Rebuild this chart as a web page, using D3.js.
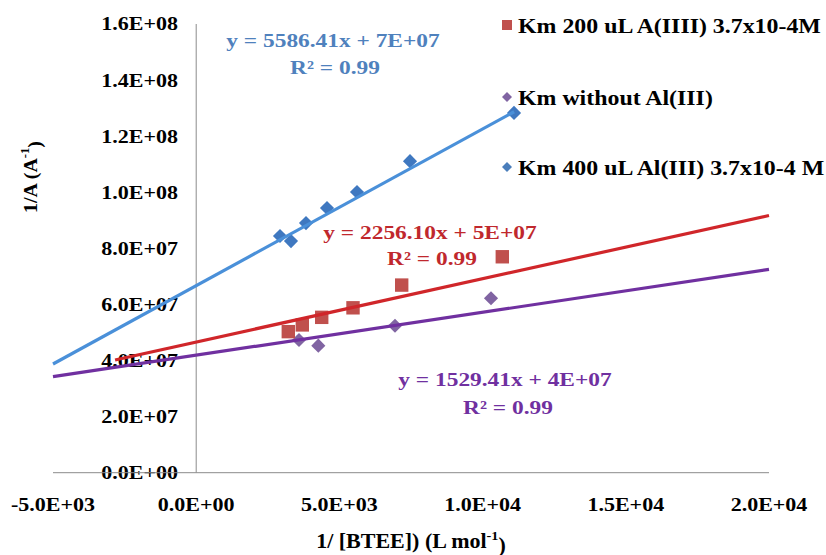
<!DOCTYPE html>
<html>
<head>
<meta charset="utf-8">
<script src="https://cdn.jsdelivr.net/npm/d3@7"></script>
<style>
  body { margin: 0; background: #fff; }
</style>
</head>
<body>
<script>
// data
var redX = [3216, 3705, 4382, 5475, 7175, 10688];
var redY = [5.03e7, 5.27e7, 5.54e7, 5.88e7, 6.69e7, 7.70e7];
var purpleX = [3589, 4264, 6941, 10293];
var purpleY = [4.73e7, 4.53e7, 5.24e7, 6.22e7];
var blueX = [2926, 3310, 3834, 4567, 5614, 7465, 11097];
var blueY = [8.44e7, 8.26e7, 8.90e7, 9.44e7, 1.001e8, 1.111e8, 1.283e8];

// trendlines: slope, intercept, x extent
var redFit = [2256.10, 4.66e7, -2833, 20000];
var purpleFit = [1529.41, 4.19e7, -5000, 20000];
var blueFit = [5586.41, 6.67e7, -5000, 11100];

var xTicks = [-5000, 0, 5000, 10000, 15000, 20000];
var yTicks = [0, 2e7, 4e7, 6e7, 8e7, 1e8, 1.2e8, 1.4e8, 1.6e8];
var legendNames = ['Km 200 uL A(IIII) 3.7x10-4M', 'Km without Al(III)', 'Km 400 uL Al(III) 3.7x10-4 M'];

var W = 826, H = 555;
var svg = d3.select('body').append('svg').attr('width', W).attr('height', H)
  .style('font-family', "'Liberation Serif', serif")
  .style('font-weight', 'bold');

var x = d3.scaleLinear().domain([-5000, 20000]).range([53, 769]);
var y = d3.scaleLinear().domain([0, 1.6e8]).range([472.7, 24]);

var fmt = function (v) {
  var s = v.toExponential(1).toUpperCase();   // e.g. 1.6E+8
  return s.replace(/E([+-])(\d)$/, 'E$10$2');
};

// stretched text helper (source picture is wider than tall)
var label = function (tx, ty, str, size, color, anchor, sx) {
  var g = svg.append('g').attr('transform', 'translate(' + tx + ',' + ty + ') scale(' + (sx || 1.15) + ',1)');
  return g.append('text')
    .attr('font-size', size)
    .attr('fill', color)
    .attr('text-anchor', anchor || 'middle')
    .attr('dy', '0.35em')
    .text(str);
};

// tick labels
yTicks.forEach(function (t) {
  label(178, y(t), fmt(t), 18.5, '#000', 'end', 1.19);
});
xTicks.forEach(function (t) {
  label(x(t), 505, fmt(t), 18.5, '#000', 'middle', 1.19);
});

// axes lines
svg.append('line').attr('x1', x(0)).attr('x2', x(0)).attr('y1', y(1.6e8)).attr('y2', y(0))
  .attr('stroke', '#8c8c8c').attr('stroke-width', 1);
svg.append('line').attr('x1', x(-5000)).attr('x2', x(20000)).attr('y1', y(0)).attr('y2', y(0))
  .attr('stroke', '#8c8c8c').attr('stroke-width', 1);

// axis titles
var xt = label(411, 541, '1/ [BTEE]) (L mol', 20, '#000', 'middle', 1.1);
xt.append('tspan').attr('font-size', 13).attr('dy', '-0.6em').text('-1');
xt.append('tspan').attr('dy', '0.6em').text(')');

var yg = svg.append('g').attr('transform', 'translate(30,177) rotate(-90) scale(1.05,1)');
var yt = yg.append('text').attr('font-size', 19).attr('text-anchor', 'middle').attr('dy', '0.35em').text('1/A (A');
yt.append('tspan').attr('font-size', 12).attr('dy', '-0.6em').text('-1');
yt.append('tspan').attr('dy', '0.6em').text(')');

// trendlines
var drawFit = function (fit, color) {
  var pts = [fit[2], fit[3]].map(function (v) { return [v, fit[0] * v + fit[1]]; });
  svg.append('path')
    .attr('d', d3.line().x(function (d) { return x(d[0]); }).y(function (d) { return y(d[1]); })(pts))
    .attr('fill', 'none').attr('stroke', color).attr('stroke-width', 3.2);
};

// markers
var square = d3.symbol().type(d3.symbolSquare);
var drawPts = function (xs, ys, color, size, rot) {
  svg.append('g').selectAll('path').data(xs).enter().append('path')
    .attr('d', square.size(size)())
    .attr('transform', function (d, i) { return 'translate(' + x(d) + ',' + y(ys[i]) + ') rotate(' + rot + ')'; })
    .attr('fill', color);
};
drawPts(purpleX, purpleY, '#8064a2', 100, 45);
drawPts(redX, redY, '#c0504d', 180, 0);
drawPts(blueX, blueY, '#3f78c0', 100, 45);

drawFit(blueFit, '#4a90d9');
drawFit(redFit, '#d0262a');
drawFit(purpleFit, '#7030a0');

// equations
label(333, 40, 'y = 5586.41x + 7E+07', 19.5, '#4f81bd', 'middle', 1.2);
label(335, 67, 'R\u00b2 = 0.99', 19.5, '#4f81bd', 'middle', 1.2);
label(430, 232, 'y = 2256.10x + 5E+07', 19.5, '#c0282d', 'middle', 1.2);
label(432, 258, 'R\u00b2 = 0.99', 19.5, '#c0282d', 'middle', 1.2);
label(505, 379, 'y = 1529.41x + 4E+07', 19.5, '#7030a0', 'middle', 1.2);
label(508, 407, 'R\u00b2 = 0.99', 19.5, '#7030a0', 'middle', 1.2);

// legend
var legColors = ['#c0504d', '#8064a2', '#4a7ebb'];
var legY = [25, 97, 167];
legendNames.forEach(function (n, i) {
  svg.append('path')
    .attr('d', square.size(i === 0 ? 100 : 50)())
    .attr('transform', 'translate(507,' + legY[i] + ') rotate(' + (i === 0 ? 0 : 45) + ')')
    .attr('fill', legColors[i]);
  label(518, legY[i], n, 21.5, '#000', 'start', 1.11);
});
</script>
</body>
</html>
